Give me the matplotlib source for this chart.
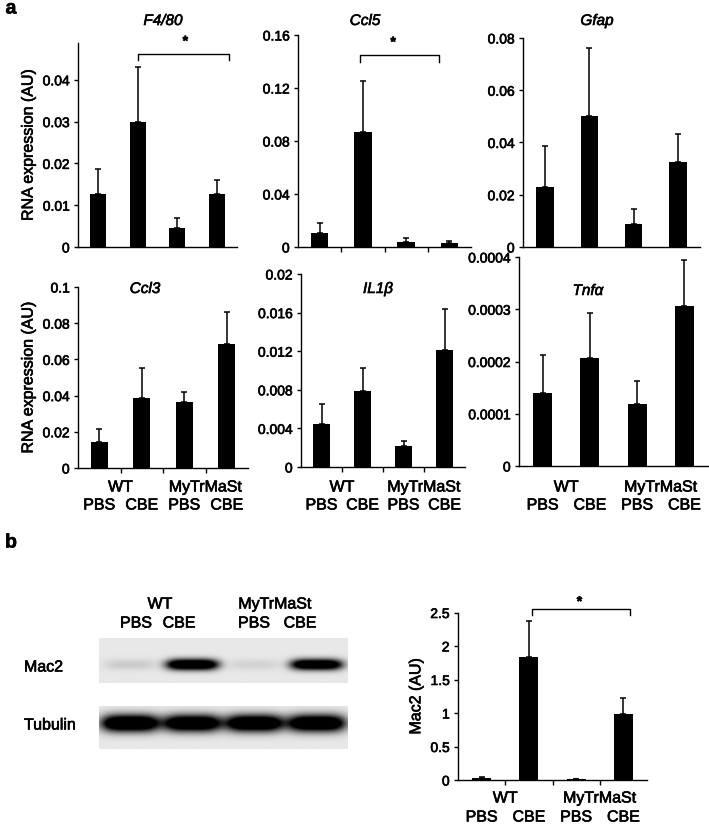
import numpy as np
import matplotlib
matplotlib.use('Agg')
import matplotlib.pyplot as plt
import matplotlib.patheffects as pe
from matplotlib.text import Text

plt.rcParams['font.family'] = ['Liberation Sans', 'DejaVu Sans']

W, H = 709, 824

# ---------------- data ----------------
groups = ['WT', 'MyTrMaSt']
treatments = ['PBS', 'CBE', 'PBS', 'CBE']

f480_mean = [0.0127, 0.0300, 0.0045, 0.0127]
f480_err = [0.0060, 0.0130, 0.0024, 0.0033]
ccl5_mean = [0.0108, 0.0866, 0.0040, 0.0028]
ccl5_err = [0.0075, 0.0389, 0.0030, 0.0020]
gfap_mean = [0.0228, 0.0500, 0.0087, 0.0325]
gfap_err = [0.0160, 0.0260, 0.0060, 0.0106]
ccl3_mean = [0.0141, 0.0385, 0.0367, 0.0684]
ccl3_err = [0.0075, 0.0169, 0.0055, 0.0178]
il1b_mean = [0.0045, 0.0079, 0.0022, 0.0121]
il1b_err = [0.0020, 0.0024, 0.0005, 0.0043]
tnfa_mean = [0.000140, 0.000206, 0.000118, 0.000307]
tnfa_err = [0.000073, 0.000087, 0.000044, 0.000088]
mac2_mean = [0.03, 1.83, 0.01, 0.99]
mac2_err = [0.02, 0.55, 0.01, 0.24]

f480_ticks = [0, 0.01, 0.02, 0.03, 0.04]
ccl5_ticks = [0, 0.04, 0.08, 0.12, 0.16]
gfap_ticks = [0, 0.02, 0.04, 0.06, 0.08]
ccl3_ticks = [0, 0.02, 0.04, 0.06, 0.08, 0.1]
il1b_ticks = [0, 0.004, 0.008, 0.012, 0.016, 0.02]
tnfa_ticks = [0, 0.0001, 0.0002, 0.0003, 0.0004]
mac2_ticks = [0, 0.5, 1, 1.5, 2, 2.5]

# western blot band intensities (relative darkness) per lane
mac2_band = [0.08, 1.0, 0.06, 0.95]
tubulin_band = [1.0, 0.95, 0.97, 0.97]

fig = plt.figure(figsize=(W / 100, H / 100), dpi=100)


def add_ax(l, t, r, b):
    return fig.add_axes([l / W, 1 - b / H, (r - l) / W, (b - t) / H])


def ftext(x, y, s, **kw):
    kw.setdefault('ha', 'center')
    kw.setdefault('va', 'center')
    return fig.text(x / W, 1 - y / H, s, **kw)


def bar_panel(box, means, errs, ticks, ymax, xticks=True):
    ax = add_ax(*box)
    x = np.arange(len(means))
    ax.bar(x, means, width=0.4, color='black', zorder=2)
    ax.errorbar(x, means, yerr=[np.zeros(len(errs)), errs], fmt='none',
                ecolor='black', elinewidth=1.1, capsize=2, capthick=1.1, zorder=1)
    ax.set_xlim(-0.5, len(means) - 0.5)
    ax.set_ylim(0, ymax)
    ax.set_yticks(ticks)
    ax.set_yticklabels(['%g' % t for t in ticks])
    ax.spines['top'].set_visible(False)
    ax.spines['right'].set_visible(False)
    ax.spines['left'].set_linewidth(1.0)
    ax.spines['bottom'].set_linewidth(1.0)
    ax.tick_params(axis='y', direction='out', length=3, width=1.0,
                   labelsize=10, pad=3)
    if xticks:
        ax.set_xticks(np.arange(0.5, len(means) - 0.5, 1.0))
        ax.tick_params(axis='x', direction='out', length=3.5, width=1.0,
                       labelbottom=False)
    else:
        ax.set_xticks([])
    ax.patch.set_alpha(0)
    return ax


def bracket(ax, x0, x1, y, ydrop, star_x, star_y):
    ax.plot([x0, x0, x1, x1], [y - ydrop, y, y, y - ydrop], color='black',
            lw=1.0, clip_on=False)
    ax.text(star_x, star_y, '*', ha='center', va='center', fontsize=10,
            fontweight='bold', clip_on=False)


def under_labels(ax, y_grp, y_trt, fs=11.5):
    for gx, g in zip([0.5, 2.5], groups):
        xp = ax.transData.transform((gx, 0))[0]
        ftext(xp, y_grp, g, fontsize=fs)
    for i, t in enumerate(treatments):
        xp = ax.transData.transform((i, 0))[0]
        ftext(xp, y_trt, t, fontsize=fs)


# ---------------- panel a, top row ----------------
ax1 = bar_panel((78, 43, 237, 247), f480_mean, f480_err, f480_ticks, 0.0488, xticks=False)
bracket(ax1, 1.0, 3.3, 0.0461, 0.0013, 2.2, 0.0492)
ax1.set_ylabel('RNA expression (AU)', fontsize=11.5, labelpad=5)

ax2 = bar_panel((298, 35, 471, 247), ccl5_mean, ccl5_err, ccl5_ticks, 0.16)
bracket(ax2, 0.93, 2.76, 0.1449, 0.0055, 1.7, 0.1545)

ax3 = bar_panel((523, 38, 700, 247), gfap_mean, gfap_err, gfap_ticks, 0.08, xticks=False)

ftext(163, 21, 'F4/80', style='italic', fontsize=11)
ftext(365, 21, 'Ccl5', style='italic', fontsize=11)
ftext(597, 21, 'Gfap', style='italic', fontsize=11)

# ---------------- panel a, bottom row ----------------
ax4 = bar_panel((78, 287, 248, 468), ccl3_mean, ccl3_err, ccl3_ticks, 0.1)
ax4.set_ylabel('RNA expression (AU)', fontsize=11.5, labelpad=5)
ax5 = bar_panel((301, 274, 465, 467), il1b_mean, il1b_err, il1b_ticks, 0.02)
ax6 = bar_panel((519, 257, 708, 466), tnfa_mean, tnfa_err, tnfa_ticks, 0.0004, xticks=False)

ftext(145, 289, 'Ccl3', style='italic', fontsize=11)
ftext(378, 289, 'IL1β', style='italic', fontsize=11)
ftext(588, 291, 'Tnfα', style='italic', fontsize=11)

for ax in (ax4, ax5, ax6):
    under_labels(ax, 487, 505)

# ---------------- panel b ----------------
ax7 = bar_panel((458, 612.5, 647, 780), mac2_mean, mac2_err, mac2_ticks, 2.5)
ax7.set_ylabel('Mac2 (AU)', fontsize=11.5, labelpad=5)
bracket(ax7, 1.07, 3.15, 2.55, 0.09, 2.07, 2.66)
under_labels(ax7, 798, 817)


# western blot strips
def blot(box, intens, yc, wy, wx):
    ax = add_ax(*box)
    xs = np.linspace(-0.5, 3.5, 500)
    ys = np.linspace(0, 1, 120)
    X, Y = np.meshgrid(xs, ys)
    dark = np.zeros_like(X)
    for i, v in enumerate(intens):
        dark += v * np.exp(-np.abs((X - i) / wx) ** 4) * np.exp(-((Y - yc) / wy) ** 2)
    img = 0.91 - 0.91 * np.clip(dark * 1.6, 0, 1)
    ax.imshow(img, cmap='gray', vmin=0, vmax=1, extent=[-0.5, 3.5, 1, 0],
              aspect='auto', interpolation='bilinear')
    ax.axis('off')
    return ax


blot((99, 638, 348, 683), mac2_band, 0.6, 0.12, 0.42)
blot((99, 706, 348, 749), tubulin_band, 0.4, 0.2, 0.47)

ftext(24, 667, 'Mac2', ha='left', fontsize=11.5)
ftext(24, 725, 'Tubulin', ha='left', fontsize=11.5)
ftext(160, 604, 'WT', fontsize=11.5)
ftext(275, 604, 'MyTrMaSt', fontsize=11.5)
ftext(136, 623, 'PBS', fontsize=11.5)
ftext(179, 623, 'CBE', fontsize=11.5)
ftext(254, 623, 'PBS', fontsize=11.5)
ftext(300, 623, 'CBE', fontsize=11.5)

# panel letters
ftext(11, 9, 'a', fontsize=14, fontweight='bold')
ftext(11, 543, 'b', fontsize=14, fontweight='bold')

# slightly heavier text, like the reference rendering
for t in fig.findobj(Text):
    if t.get_text():
        t.set_path_effects([pe.withStroke(linewidth=0.45, foreground='black')])

fig.savefig('out.png', dpi=100)
